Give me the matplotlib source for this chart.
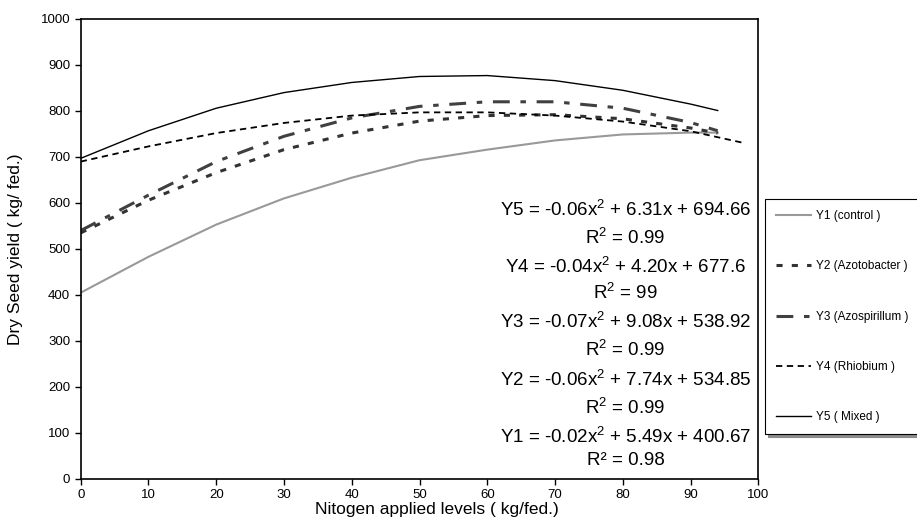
import numpy as np
import matplotlib
matplotlib.use("Agg")
import matplotlib.pyplot as plt

plt.rcParams['font.family'] = ['Liberation Sans', 'DejaVu Sans']
plt.rcParams['mathtext.fontset'] = 'custom'
plt.rcParams['mathtext.rm'] = 'Liberation Sans'
plt.rcParams['mathtext.it'] = 'Liberation Sans:italic'

# values
x_main = [0, 10, 20, 30, 40, 50, 60, 70, 80, 90, 94]
x_y4 = [0, 10, 20, 30, 40, 50, 60, 70, 80, 90, 98]
y1_control = [405, 483, 553, 610, 655, 693, 716, 736, 749, 753, 753]
y2_azotobacter = [535, 606, 666, 716, 752, 778, 790, 792, 783, 763, 752]
y3_azospirillum = [540, 617, 690, 745, 785, 810, 820, 820, 806, 775, 757]
y4_rhiobium = [690, 723, 752, 774, 790, 797, 797, 790, 777, 756, 730]
y5_mixed = [697, 757, 806, 840, 862, 875, 877, 866, 845, 815, 801]

labels = ["Y1 (control )", "Y2 (Azotobacter )", "Y3 (Azospirillum )",
          "Y4 (Rhiobium )", "Y5 ( Mixed )"]

eq_lines = [r"Y5 = -0.06x$^{2}$ + 6.31x + 694.66", r"R$^{2}$ = 0.99",
            r"Y4 = -0.04x$^{2}$ + 4.20x + 677.6", r"R$^{2}$ = 99",
            r"Y3 = -0.07x$^{2}$ + 9.08x + 538.92", r"R$^{2}$ = 0.99",
            r"Y2 = -0.06x$^{2}$ + 7.74x + 534.85", r"R$^{2}$ = 0.99",
            r"Y1 = -0.02x$^{2}$ + 5.49x + 400.67", "R² = 0.98"]
eq_y = [585, 524, 461, 404, 341, 280, 215, 154, 91, 41]

fig = plt.figure(figsize=(9.17, 5.26), dpi=100)
ax = fig.add_axes([0.088, 0.0894, 0.739, 0.8745])

ax.plot(x_main, y1_control, color='0.6', lw=1.5, label=labels[0])
ax.plot(x_main, y2_azotobacter, color='0.2', lw=2.2, ls=(0, (2, 3)), label=labels[1])
ax.plot(x_main, y3_azospirillum, color='0.25', lw=2.2, ls=(0, (5.5, 3.5, 1.8, 3.5)), label=labels[2])
ax.plot(x_y4, y4_rhiobium, color='black', lw=1.3, ls=(0, (3.5, 2.5)), label=labels[3])
ax.plot(x_main, y5_mixed, color='black', lw=1.0, label=labels[4])

for t, yy in zip(eq_lines, eq_y):
    ax.text(80.4, yy, t, ha='center', va='center', fontsize=13.5)

ax.set_xlim(0, 100)
ax.set_ylim(0, 1000)
ax.set_xticks(np.arange(0, 101, 10))
ax.set_yticks(np.arange(0, 1001, 100))
ax.tick_params(direction='out', length=4, width=1, labelsize=9.5, colors='black')
for s in ax.spines.values():
    s.set_linewidth(1.2)

ax.set_xlabel("Nitogen applied levels ( kg/fed.)", fontsize=12.5)
ax.xaxis.set_label_coords(0.525, -0.05)
ax.set_ylabel("Dry Seed yield ( kg/ fed.)", fontsize=12.5)
ax.yaxis.set_label_coords(-0.085, 0.5)

leg = fig.legend(loc='upper left', bbox_to_anchor=(763 / 917, 1 - 197 / 526),
                 fontsize=8.5, frameon=True, fancybox=False, handlelength=3.0,
                 handletextpad=0.4, labelspacing=3.25, borderpad=0.9,
                 borderaxespad=0.2,
                 shadow={'ox': 2, 'oy': -2, 'color': '0.55', 'alpha': 1})
leg.get_frame().set_edgecolor('black')
leg.get_frame().set_linewidth(0.8)

fig.savefig("out.png", dpi=100)
